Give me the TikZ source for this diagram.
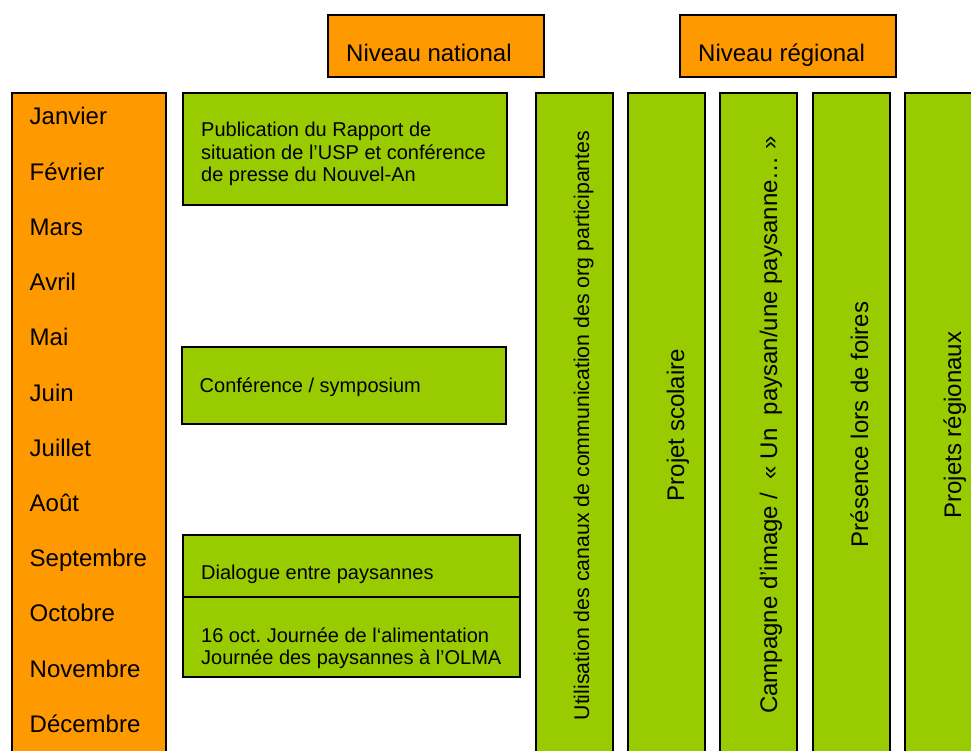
\documentclass[tikz,border=0pt]{standalone}
\usepackage{fontspec}
\setmainfont{Liberation Sans}
\frenchspacing
\definecolor{orng}{HTML}{FF9900}
\definecolor{grn}{HTML}{99CC00}
\begin{document}
\begin{tikzpicture}[x=1pt,y=-1pt,
  obox/.style={draw=black, line width=1.5pt, fill=orng, anchor=north west, inner sep=0pt, outer sep=0pt},
  gbox/.style={draw=black, line width=1.5pt, fill=grn, anchor=north west, inner sep=0pt, outer sep=0pt},
  big/.style={font=\fontsize{24}{28}\selectfont, inner sep=0pt, anchor=base west},
  small/.style={font=\fontsize{20}{22.5}\selectfont, inner sep=0pt, anchor=base west},
  vtext/.style={font=\fontsize{24}{28}\selectfont, inner sep=0pt, rotate=90, anchor=base}]
\useasboundingbox (0,0) rectangle (971,751);
\clip (0,0) rectangle (971,751);
% header boxes
\node[obox, minimum width=216pt, minimum height=62pt] (nat) at (328,15) {};
\node[obox, minimum width=216pt, minimum height=62pt] (reg) at (680,15) {};
\node[big] (natt) at (346,62) {Niveau national};
\node[big] (regt) at (698,62) {Niveau régional};
% months column
\node[obox, minimum width=154pt, minimum height=680pt] (months) at (12,93) {};
\foreach \m [count=\i from 0] in {Janvier,Février,Mars,Avril,Mai,Juin,Juillet,Août,Septembre,Octobre,Novembre,Décembre}
  \node[big] (m\i) at (29.5,125+55.2*\i) {\m};
% national boxes
\node[gbox, minimum width=324pt, minimum height=112pt] (pub) at (183,93) {};
\node[small] (pubt1) at (201,137) {Publication du Rapport de};
\node[small] (pubt2) at (201,159.5) {situation de l’USP et conférence};
\node[small] (pubt3) at (201,182) {de presse du Nouvel-An};
\node[gbox, minimum width=324pt, minimum height=77pt] (conf) at (182,347) {};
\node[small] (conft) at (199.5,392) {Conférence / symposium};
\node[gbox, minimum width=337pt, minimum height=62pt] (dial) at (183,535) {};
\node[small] (dialt) at (201,579) {Dialogue entre paysannes};
\node[gbox, minimum width=337pt, minimum height=80pt] (olma) at (183,597) {};
\node[small] (olmat1) at (201,642) {16 oct. Journée de l‘alimentation};
\node[small] (olmat2) at (201,664) {Journée des paysannes à l’OLMA};
% vertical columns
\node[gbox, minimum width=77pt, minimum height=680pt] (c1) at (536,93) {};
\node[gbox, minimum width=77pt, minimum height=680pt] (c2) at (628,93) {};
\node[gbox, minimum width=77pt, minimum height=680pt] (c3) at (720,93) {};
\node[gbox, minimum width=77pt, minimum height=680pt] (c4) at (813,93) {};
\node[gbox, minimum width=77pt, minimum height=680pt] (c5) at (905,93) {};
\node[vtext, font=\fontsize{21.3}{25}\selectfont] (c1t) at (589,425.5) {Utilisation des canaux de communication des org participantes};
\node[vtext] (c2t) at (684,425) {Projet scolaire};
\node[vtext] (c3t) at (777,425) {Campagne d’image /\ \ « Un\ \ paysan/une paysanne… »};
\node[vtext] (c4t) at (868,424.5) {Présence lors de foires};
\node[vtext] (c5t) at (961,425) {Projets régionaux};
\end{tikzpicture}
\end{document}
